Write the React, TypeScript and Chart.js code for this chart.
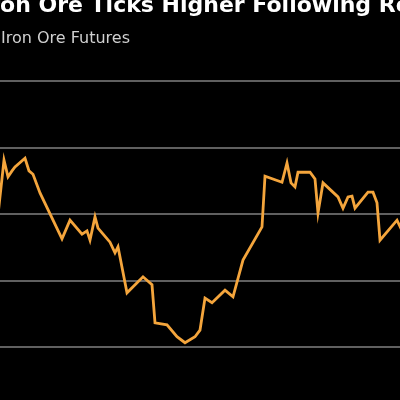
import React, { useEffect, useRef } from "react";
import { Chart, registerables } from "chart.js";

Chart.register(...registerables);

const titleText = "Iron Ore Ticks Higher Following Record Fall";
const seriesLabel = "Iron Ore Futures";

// trading-day index of each turning point
const days = [
  4.5, 6, 7, 8, 8.75, 11.25, 12.25, 13.25, 15, 20.5, 22.5, 25.5, 26.75, 27.5,
  28.75, 29.5, 32.5, 33.75, 34.5, 36.75, 40.75, 43, 43.75, 46.75, 49.25, 51.25,
  53.75, 55, 56.25, 58, 61.25, 63.25, 65.75, 70.5, 71.25, 75.5, 76.75, 77.75,
  78.75, 79.5, 82.5, 83.75, 84.5, 85.75, 89.5, 90.75, 92, 93, 93.75, 97, 98.25,
  99.25, 100, 104.25, 106,
];

// price in USD/ton
const prices = [
  109.9, 118.1, 115.6, 116.5, 117.1, 118.4, 116.5, 116.0, 113.2, 106.3, 109.1,
  107.0, 107.5, 106.1, 109.6, 107.9, 105.8, 104.2, 105.1, 98.2, 100.6, 99.4,
  93.7, 93.4, 91.6, 90.7, 91.6, 92.6, 97.4, 96.7, 98.6, 97.6, 103.1, 108.1,
  115.7, 114.8, 117.7, 114.7, 114.1, 116.3, 116.3, 115.3, 110.2, 114.7, 112.6,
  110.9, 112.6, 112.7, 110.9, 113.3, 113.3, 111.7, 106.1, 109.1, 106.9,
];

const yTicks = [80, 90, 100, 110, 120, 130];

export default function App() {
  const ref = useRef<HTMLCanvasElement>(null);

  useEffect(() => {
    if (!ref.current) return;
    const chart = new Chart(ref.current, {
      type: "line",
      data: {
        datasets: [
          {
            label: seriesLabel,
            data: days.map((d, i) => ({ x: d, y: prices[i] })),
            borderColor: "#f4a53c",
            borderWidth: 2.8,
            pointRadius: 0,
            tension: 0,
            fill: false,
          },
        ],
      },
      options: {
        responsive: false,
        animation: false,
        maintainAspectRatio: false,
        layout: { padding: { left: 0, right: 0, top: 81, bottom: 6 } },
        plugins: {
          legend: { display: false },
          title: { display: false },
          tooltip: { enabled: false },
        },
        scales: {
          x: {
            type: "linear",
            min: 0,
            max: 110,
            display: false,
          },
          y: {
            min: yTicks[0],
            max: yTicks[yTicks.length - 1],
            afterBuildTicks: (s: any) => {
              s.ticks = yTicks.map((v) => ({ value: v }));
            },
            afterFit: (s: any) => {
              s.width = 0;
            },
            ticks: { display: false },
            border: { display: false },
            grid: { color: "#606060", lineWidth: 2, drawTicks: false },
          },
        },
      },
    });
    return () => chart.destroy();
  }, []);

  return (
    <div
      style={{
        position: "fixed",
        left: 0,
        top: 0,
        width: 400,
        height: 400,
        overflow: "hidden",
        background: "#000",
      }}
    >
      <canvas
        ref={ref}
        width={440}
        height={420}
        style={{ position: "absolute", left: -20, top: 0, width: 440, height: 420 }}
      />
      <div
        style={{
          position: "absolute",
          left: -19,
          top: -10,
          whiteSpace: "nowrap",
          fontFamily: "'DejaVu Sans', sans-serif",
          fontWeight: "bold",
          fontSize: 22,
          lineHeight: "30px",
          color: "#ffffff",
        }}
      >
        {titleText}
      </div>
      <div
        style={{
          position: "absolute",
          left: 1,
          top: 28,
          whiteSpace: "nowrap",
          fontFamily: "'DejaVu Sans', sans-serif",
          fontSize: 16,
          lineHeight: "20px",
          color: "#d0d0d0",
        }}
      >
        {seriesLabel}
      </div>
    </div>
  );
}
